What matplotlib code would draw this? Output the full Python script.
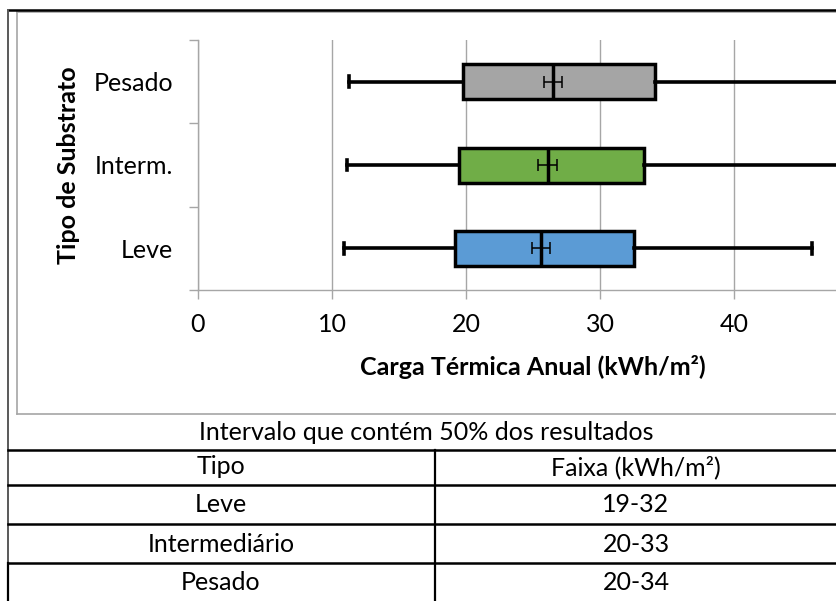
import matplotlib
matplotlib.use("Agg")
import matplotlib.pyplot as plt
from matplotlib.lines import Line2D

plt.rcParams['font.family'] = ['Lato', 'DejaVu Sans']

# box plot data (kWh/m2), bottom to top
categories = ["Leve", "Interm.", "Pesado"]
whis_lo = [10.9, 11.1, 11.3]
q1 = [19.2, 19.5, 19.8]
median = [25.6, 26.1, 26.5]
q3 = [32.5, 33.3, 34.1]
whis_hi = [45.8, 49.0, 49.0]
ci_lo = [24.9, 25.4, 25.8]
ci_hi = [26.3, 26.8, 27.2]
box_colors = ["#5B9BD5", "#70AD47", "#A5A5A5"]

xticks = [0, 10, 20, 30, 40]

# table below the chart
table_title = "Intervalo que contém 50% dos resultados"
table_header = ["Tipo", "Faixa (kWh/m²)"]
table_tipos = ["Leve", "Intermediário", "Pesado"]
table_faixas = ["19-32", "20-33", "20-34"]

W, H = 837, 601
fig = plt.figure(figsize=(W / 100, H / 100), dpi=100)

def fx(px):
    return px / W

def fy(py):
    return 1 - py / H

ax = fig.add_axes([fx(198), fy(290), 670 / W, 250 / H])

stats = []
for i in range(len(categories)):
    stats.append(dict(label=categories[i], whislo=whis_lo[i], q1=q1[i], med=median[i],
                      q3=q3[i], whishi=whis_hi[i], fliers=[]))
pos = [1, 2, 3]
bp = ax.bxp(stats, positions=pos, widths=0.42, orientation='horizontal', patch_artist=True,
            showfliers=False, capwidths=0.13,
            boxprops=dict(linewidth=2.5, edgecolor='black'),
            medianprops=dict(color='black', linewidth=2.5),
            whiskerprops=dict(color='black', linewidth=2.6),
            capprops=dict(color='black', linewidth=2.6))
for patch, c in zip(bp['boxes'], box_colors):
    patch.set_facecolor(c)
    patch.set_zorder(3)
for k in ['medians', 'whiskers', 'caps']:
    for ln in bp[k]:
        ln.set_zorder(4)

err = [[m - lo for m, lo in zip(median, ci_lo)], [hi - m for m, hi in zip(median, ci_hi)]]
ax.errorbar(median, pos, xerr=err, fmt='none', ecolor='black', elinewidth=1.1,
            capsize=4.3, capthick=1.1, zorder=5)

fs = 18
ax.set_xlim(0, 50)
ax.set_ylim(0.5, 3.5)
ax.set_xticks(xticks)
ax.set_xticklabels([str(t) for t in xticks])
ax.set_yticks([0.5, 1.5, 2.5, 3.5])
ax.set_yticklabels([])
ax.set_yticks(pos, minor=True)
ax.set_yticklabels(categories, minor=True)
ax.tick_params(axis='y', which='major', length=6.5, width=1, color='#A6A6A6', direction='out')
ax.tick_params(axis='y', which='minor', length=0, pad=18, labelsize=fs)
ax.tick_params(axis='x', length=6.5, width=1, color='#A6A6A6', direction='out', pad=10, labelsize=fs)
ax.grid(axis='x', color='#A6A6A6', linewidth=1)
ax.set_axisbelow(True)
for s in ['top', 'right']:
    ax.spines[s].set_visible(False)
for s in ['left', 'bottom']:
    ax.spines[s].set_color('#A6A6A6')
    ax.spines[s].set_linewidth(1)

ax.set_xlabel("Carga Térmica Anual (kWh/m²)", fontsize=fs, fontweight='bold')
ax.xaxis.set_label_coords(0.5, (290 - 355) / 250)
ax.set_ylabel("Tipo de Substrato", fontsize=fs, fontweight='bold')
ax.yaxis.set_label_coords((80 - 198) / 670, 0.5)

# frame lines
def hline(y, x0, x1, color='black', lw=1.6):
    fig.add_artist(Line2D([fx(x0), fx(x1)], [fy(y), fy(y)], color=color, linewidth=lw))

def vline(x, y0, y1, color='black', lw=1.6):
    fig.add_artist(Line2D([fx(x), fx(x)], [fy(y0), fy(y1)], color=color, linewidth=lw))

# chart border
hline(11.5, 17.5, W, color='#A6A6A6', lw=1.2)
vline(17.5, 11.5, 414, color='#A6A6A6', lw=1.2)
hline(414, 17.5, W, color='#A6A6A6', lw=1.2)
# table borders
hline(9.5, 8, W, lw=1.8)
vline(8, 9.5, 563, color='#595959', lw=1.4)
vline(8, 563, H, lw=1.6)
for y in [450, 485, 524, 563]:
    hline(y, 8, W, lw=1.8)
vline(435, 450, H, lw=1.6)

fig.text(fx(426), fy(432), table_title, fontsize=fs, ha='center', va='center')
fig.text(fx(221), fy(467), table_header[0], fontsize=fs, ha='center', va='center')
fig.text(fx(636), fy(467), table_header[1], fontsize=fs, ha='center', va='center')
row_y = [505, 544, 583]
for y, t, f in zip(row_y, table_tipos, table_faixas):
    fig.text(fx(221), fy(y), t, fontsize=fs, ha='center', va='center')
    fig.text(fx(636), fy(y), f, fontsize=fs, ha='center', va='center')

fig.savefig("out.png", dpi=100)
